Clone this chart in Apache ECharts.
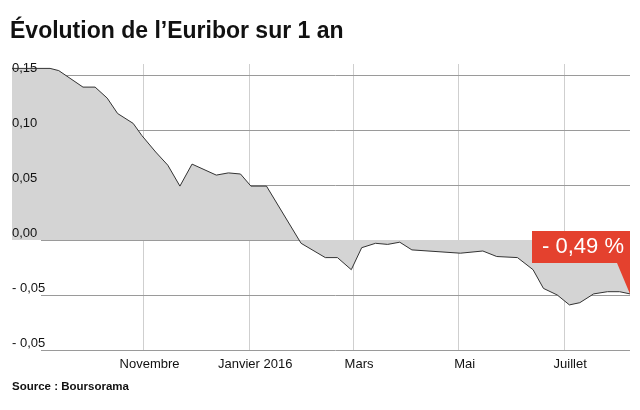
<!DOCTYPE html>
<html>
<head>
<meta charset="utf-8">
<script src="https://cdn.jsdelivr.net/npm/echarts@6/dist/echarts.min.js"></script>
<style>
html,body{margin:0;padding:0;background:#fff;}
#chart{width:640px;height:410px;}
</style>
</head>
<body>
<div id="chart"></div>
<script>
const chartTitle = 'Évolution de l’Euribor sur 1 an';
const sourceText = 'Source : Boursorama';
const annotationText = '- 0,49 %';

const dates = ['2015-08-17','2015-09-08','2015-09-13','2015-09-27','2015-10-04','2015-10-11','2015-10-17','2015-10-26','2015-10-31','2015-11-08','2015-11-15','2015-11-22','2015-11-29','2015-12-13','2015-12-20','2015-12-27','2016-01-02','2016-01-11','2016-01-31','2016-02-14','2016-02-21','2016-02-29','2016-03-06','2016-03-14','2016-03-21','2016-03-28','2016-04-04','2016-05-02','2016-05-15','2016-05-23','2016-06-04','2016-06-13','2016-06-19','2016-06-27','2016-07-04','2016-07-10','2016-07-18','2016-07-26','2016-08-02','2016-08-08'];
const values = [0.156,0.156,0.154,0.139,0.139,0.129,0.115,0.106,0.095,0.080,0.068,0.049,0.069,0.059,0.061,0.060,0.049,0.049,-0.003,-0.016,-0.016,-0.027,-0.007,-0.003,-0.004,-0.002,-0.009,-0.012,-0.010,-0.015,-0.016,-0.027,-0.044,-0.050,-0.059,-0.057,-0.049,-0.047,-0.047,-0.049];

const xLabelDates = ['2015-11-01','2016-01-01','2016-03-01','2016-05-01','2016-07-01'];
const xLabels = ['Novembre','Janvier 2016','Mars','Mai','Juillet'];

const yTickValues = [-0.10,-0.05,0.00,0.05,0.10,0.15];
const yTickLabels = ['- 0,05','- 0,05','0,00','0,05','0,10','0,15'];
const yMin = -0.10, yMax = 0.16, yStep = 0.05;

const P = s => echarts.time.parse(s).getTime();
const xLabelTimes = xLabelDates.map(P);
const seriesData = dates.map((d, i) => [P(d), values[i]]);

const chart = echarts.init(document.getElementById('chart'), null, {renderer: 'canvas'});
const font = 'Liberation Sans';

chart.setOption({
  animation: false,
  backgroundColor: '#fff',
  title: [
    {text: chartTitle, left: 5, top: 15,
     textStyle: {fontFamily: font, fontSize: 23, fontWeight: 'bold', color: '#111'}},
    {text: sourceText, left: 7, top: 376,
     textStyle: {fontFamily: font, fontSize: 11.5, fontWeight: 'bold', color: '#111'}}
  ],
  grid: [
    {left: 12, right: 10, top: 64, bottom: 60},
    {left: 41, right: 10, top: 64, bottom: 60}
  ],
  xAxis: [{
    type: 'value',
    gridIndex: 0,
    min: P(dates[0]),
    max: P(dates[dates.length - 1]),
    z: 0,
    axisLine: {show: false},
    axisTick: {show: false, customValues: xLabelTimes},
    axisLabel: {
      customValues: xLabelTimes,
      formatter: v => {
        const i = xLabelTimes.findIndex(t => Math.abs(t - v) < 3600000);
        return i >= 0 ? xLabels[i] : '';
      },
      fontFamily: font, fontSize: 13, color: '#111', margin: 8,
      padding: [0, 0, 0, 12]
    },
    splitLine: {show: true, lineStyle: {color: '#cfcfcf', width: 1}}
  }, {
    type: 'value',
    gridIndex: 1,
    min: 0, max: 1,
    show: false
  }],
  yAxis: [{
    type: 'value',
    gridIndex: 0,
    min: yMin,
    max: yMax,
    interval: yStep,
    z: 3,
    axisLine: {show: false},
    axisTick: {show: false},
    axisLabel: {
      inside: true,
      margin: 0,
      verticalAlign: 'bottom',
      fontFamily: font, fontSize: 13, color: '#111',
      formatter: v => {
        const i = yTickValues.findIndex(t => Math.abs(t - v) < 1e-9);
        return i >= 0 ? yTickLabels[i] : '';
      }
    },
    splitLine: {show: false}
  }, {
    type: 'value',
    gridIndex: 1,
    min: yMin,
    max: yMax,
    interval: yStep,
    z: 3,
    axisLine: {show: false},
    axisTick: {show: false},
    axisLabel: {show: false},
    splitLine: {show: true, showMaxLine: false, lineStyle: {color: '#9a9a9a', width: 1}}
  }],
  series: [{
    type: 'line',
    xAxisIndex: 0,
    yAxisIndex: 0,
    data: seriesData,
    symbol: 'none',
    clip: false,
    lineStyle: {color: '#333', width: 1},
    areaStyle: {color: '#d4d4d4', opacity: 1},
    markPoint: {
      symbol: 'path://M0,0 L98,0 L98,63 L85,32 L0,32 Z',
      symbolSize: [98, 63],
      symbolOffset: ['-50%', '-50%'],
      symbolKeepAspect: false,
      itemStyle: {color: '#e4412e'},
      label: {
        show: true, position: 'inside', offset: [2, -15.5],
        formatter: annotationText,
        color: '#fff', fontFamily: font, fontSize: 22
      },
      data: [{coord: [P(dates[dates.length - 1]), values[values.length - 1]]}]
    }
  }]
});
</script>
</body>
</html>
